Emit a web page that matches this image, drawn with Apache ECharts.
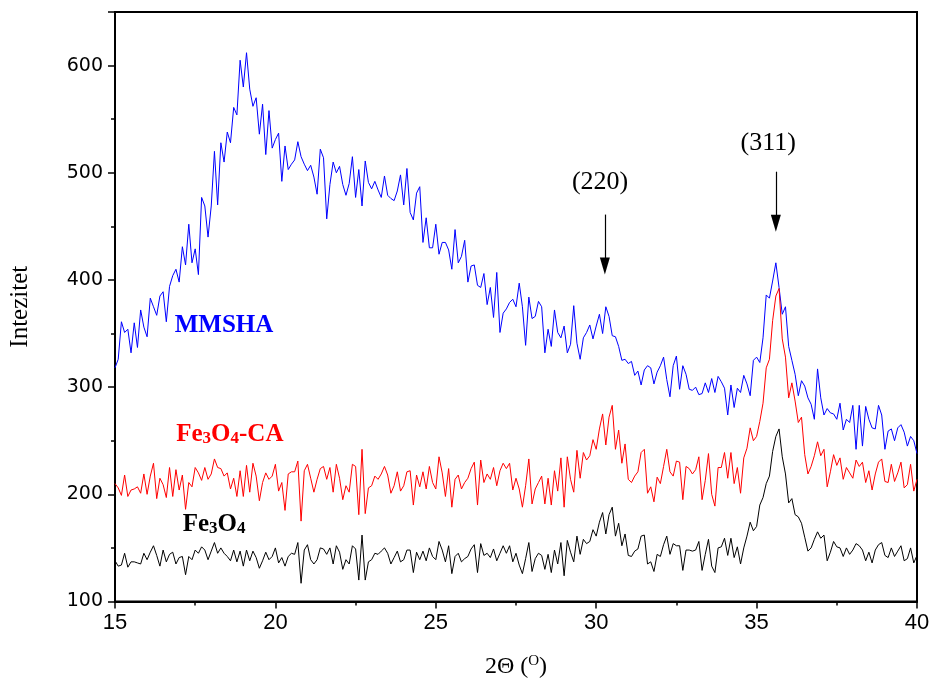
<!DOCTYPE html>
<html>
<head>
<meta charset="utf-8">
<script src="https://cdn.jsdelivr.net/npm/echarts/dist/echarts.min.js"></script>
<style>
  html, body { margin: 0; padding: 0; background: #fff; }
  #chart { width: 933px; height: 684px; }
</style>
</head>
<body>
<div id="chart"></div>
<script>
// 2-theta grid of the scans
const thetaStart = 15;
const thetaStep = 0.1;

// MMSHA (blue)
const mmsha = [
  318, 326, 361, 351, 354, 332, 360, 337, 372, 356,
  347, 383, 375, 367, 385, 389, 361, 394, 404, 410,
  398, 431, 414, 452, 416, 429, 405, 477, 469, 440,
  469, 520, 470, 528, 510, 538, 528, 561, 554, 605,
  580, 612, 578, 562, 570, 536, 564, 517, 558, 523,
  531, 537, 492, 525, 503, 508, 512, 529, 515, 508,
  502, 507, 496, 480, 522, 514, 457, 489, 510, 500,
  506, 489, 479, 490, 515, 477, 503, 469, 511, 491,
  485, 492, 484, 477, 497, 479, 476, 474, 483, 498,
  470, 504, 463, 456, 481, 487, 435, 458, 430, 430,
  452, 424, 435, 435, 428, 410, 447, 416, 422, 437,
  398, 413, 414, 395, 393, 406, 377, 393, 365, 407,
  351, 369, 373, 379, 382, 375, 397, 375, 339, 384,
  364, 366, 380, 375, 332, 354, 338, 372, 351, 346,
  357, 332, 340, 376, 341, 326, 346, 351, 358, 345,
  357, 368, 350, 375, 366, 348, 347, 338, 325, 326,
  322, 324, 311, 315, 302, 316, 320, 318, 303, 314,
  320, 328, 307, 291, 320, 329, 298, 320, 312, 298,
  297, 300, 293, 294, 304, 295, 308, 295, 310, 305,
  299, 274, 302, 281, 299, 295, 311, 303, 292, 325,
  328, 323, 346, 386, 383, 399, 416, 393, 368, 375,
  338, 325, 312, 292, 306, 301, 290, 284, 270, 317,
  290, 274, 280, 276, 275, 270, 285, 260, 270, 267,
  283, 242, 283, 245, 282, 270, 262, 261, 283, 274,
  242, 259, 261, 250, 262, 265, 258, 245, 254, 250,
  238
];

// Fe3O4-CA (red)
const fe3o4CA = [
  210, 206, 199, 218, 198, 204, 205, 207, 201, 219,
  200, 217, 229, 196, 215, 209, 197, 225, 198, 223,
  204, 218, 186, 211, 207, 225, 220, 213, 225, 214,
  219, 233, 225, 224, 217, 220, 205, 215, 198, 222,
  198, 227, 202, 229, 217, 194, 211, 220, 214, 217,
  228, 203, 211, 185, 219, 221, 221, 231, 175, 222,
  228, 215, 202, 214, 224, 226, 214, 225, 202, 228,
  215, 195, 208, 202, 228, 226, 181, 242, 182, 206,
  208, 217, 214, 219, 226, 218, 201, 208, 221, 203,
  208, 221, 222, 190, 218, 207, 221, 205, 226, 211,
  205, 235, 220, 198, 224, 188, 214, 218, 205, 211,
  215, 224, 230, 190, 232, 211, 219, 214, 225, 208,
  222, 229, 224, 229, 204, 215, 205, 188, 208, 233,
  191, 205, 211, 217, 191, 215, 190, 222, 203, 234,
  188, 235, 214, 202, 241, 215, 239, 232, 236, 251,
  242, 261, 275, 246, 272, 283, 242, 260, 229, 247,
  214, 211, 217, 221, 239, 242, 201, 207, 193, 216,
  210, 226, 242, 221, 217, 231, 230, 195, 226, 224,
  219, 223, 235, 195, 213, 238, 200, 189, 225, 225,
  239, 215, 239, 210, 225, 201, 234, 243, 262, 250,
  254, 268, 285, 318, 326, 362, 385, 392, 345, 328,
  290, 304, 287, 267, 272, 237, 219, 226, 236, 249,
  236, 242, 207, 221, 237, 227, 234, 214, 225, 220,
  215, 232, 226, 230, 211, 222, 204, 219, 230, 233,
  212, 211, 228, 212, 220, 230, 206, 209, 228, 203,
  214
];

// Fe3O4 (black)
const fe3o4 = [
  138, 133, 134, 145, 132, 137, 137, 136, 135, 145,
  139, 146, 152, 143, 133, 148, 137, 144, 146, 135,
  141, 142, 125, 142, 139, 148, 145, 151, 148, 139,
  147, 155, 145, 150, 145, 142, 138, 148, 137, 147,
  133, 148, 138, 147, 141, 131, 138, 146, 139, 142,
  150, 136, 141, 133, 142, 145, 144, 155, 117, 148,
  153, 139, 135, 139, 150, 149, 144, 150, 135, 152,
  146, 130, 139, 135, 152, 149, 120, 162, 120, 137,
  139, 145, 144, 147, 150, 145, 135, 141, 147, 137,
  139, 148, 148, 127, 146, 139, 147, 138, 150, 142,
  139, 156, 148, 137, 152, 126, 142, 145, 137, 140,
  142, 149, 153, 127, 154, 143, 145, 141, 149, 138,
  145, 152, 145, 152, 137, 145, 134, 126, 140, 155,
  128, 140, 145, 143, 130, 144, 127, 148, 135, 155,
  124, 157, 146, 137, 161, 144, 158, 154, 156, 167,
  161, 174, 183, 163, 181, 188, 161, 173, 152, 163,
  143, 142, 147, 149, 161, 162, 135, 137, 128, 144,
  142, 153, 161, 144, 154, 152, 152, 129, 148, 148,
  147, 148, 156, 129, 144, 158, 133, 127, 150, 151,
  159, 143, 159, 141, 151, 135, 150, 161, 174, 166,
  170, 190, 197, 210, 217, 240, 254, 261, 235, 219,
  192, 196, 181, 179, 173, 160, 147, 150, 158, 165,
  159, 162, 138, 146, 156, 151, 150, 142, 150, 144,
  148, 154, 152, 148, 138, 146, 136, 148, 153, 155,
  143, 141, 150, 142, 147, 152, 138, 140, 150, 136,
  143
];

// peak annotations: label, label position, arrow top, arrow head
const peakNames = ["(220)", "(311)"];
const peakLabelAt = [[30.12, 491], [35.36, 528]];
const peakArrowFrom = [[30.27, 461], [35.6, 501]];
const peakArrowTo = [[30.27, 413], [35.6, 453]];

// curve names written next to each curve
const curveNames = ["MMSHA", "Fe{sub|3}O{sub|4}-CA", "Fe{sub|3}O{sub|4}"];
const curveLabelAt = [[18.4, 357.5], [18.58, 256], [18.09, 172]];

const serif = "'Liberation Serif', 'Times New Roman', serif";

function toPairs(values) {
  return values.map((v, i) => [+(thetaStart + i * thetaStep).toFixed(2), v]);
}

function curveLabel(i, color) {
  return {
    silent: true,
    symbol: "rect",
    symbolSize: 0,
    label: {
      show: true,
      position: "inside",
      formatter: "{b}",
      color: color,
      fontFamily: serif,
      fontWeight: "bold",
      fontSize: 25,
      rich: {
        sub: {
          fontFamily: serif,
          fontWeight: "bold",
          fontSize: 17,
          color: color,
          verticalAlign: "bottom",
        },
      },
    },
    data: [{ name: curveNames[i], coord: curveLabelAt[i] }],
  };
}

const chart = echarts.init(document.getElementById("chart"));

const option = {
  animation: false,
  backgroundColor: "#fff",
  grid: {
    left: 115,
    right: 16,
    top: 12,
    bottom: 82,
    show: true,
    borderColor: "#000",
    borderWidth: 2,
  },
  xAxis: {
    type: "value",
    min: 15,
    max: 40,
    interval: 5,
    name: "2\u0398 ({sup|O})",
    nameLocation: "middle",
    nameGap: 52,
    nameTextStyle: {
      fontFamily: serif,
      fontSize: 24,
      color: "#000",
      rich: {
        sup: { fontFamily: serif, fontSize: 15, color: "#000", padding: [0, 0, 12, 0] },
      },
    },
    axisLine: { lineStyle: { color: "#000", width: 2 } },
    axisTick: { inside: false, length: 7, lineStyle: { color: "#000", width: 1.5 } },
    minorTick: { show: true, splitNumber: 2, length: 4, lineStyle: { color: "#000", width: 1.5 } },
    axisLabel: {
      color: "#000",
      fontSize: 22,
      fontFamily: "'Liberation Sans Narrow', 'Liberation Sans', Arial, sans-serif",
      margin: 10,
    },
    splitLine: { show: false },
  },
  yAxis: {
    type: "value",
    min: 100,
    max: 650,
    interval: 100,
    name: "Intezitet",
    nameLocation: "middle",
    nameGap: 82,
    nameTextStyle: { fontFamily: serif, fontSize: 25, color: "#000" },
    axisLine: { show: true, lineStyle: { color: "#000", width: 2 } },
    axisTick: { show: true, inside: false, length: 7, lineStyle: { color: "#000", width: 1.5 } },
    minorTick: { show: true, splitNumber: 2, length: 4, lineStyle: { color: "#000", width: 1.5 } },
    axisLabel: {
      color: "#000",
      fontSize: 19,
      fontFamily: "'DejaVu Sans', sans-serif",
      margin: 12,
      showMaxLabel: false,
    },
    splitLine: { show: false },
  },
  series: [
    {
      name: "MMSHA",
      type: "line",
      data: toPairs(mmsha),
      showSymbol: false,
      symbol: "none",
      lineStyle: { color: "#0000ff", width: 1 },
      itemStyle: { color: "#0000ff" },
      markPoint: curveLabel(0, "#0000ff"),
    },
    {
      name: "Fe3O4-CA",
      type: "line",
      data: toPairs(fe3o4CA),
      showSymbol: false,
      symbol: "none",
      lineStyle: { color: "#ff0000", width: 1 },
      itemStyle: { color: "#ff0000" },
      markPoint: curveLabel(1, "#ff0000"),
    },
    {
      name: "Fe3O4",
      type: "line",
      data: toPairs(fe3o4),
      showSymbol: false,
      symbol: "none",
      lineStyle: { color: "#000", width: 1 },
      itemStyle: { color: "#000" },
      markPoint: curveLabel(2, "#000"),
    },
    {
      // peak arrows and Miller indices
      name: "peaks",
      type: "line",
      data: [],
      markLine: {
        silent: true,
        symbol: ["none", "triangle"],
        symbolSize: [10, 17],
        label: { show: false },
        lineStyle: { color: "#000", width: 1.2, type: "solid" },
        data: peakArrowFrom.map((p, i) => [{ coord: p }, { coord: peakArrowTo[i] }]),
      },
      markPoint: {
        silent: true,
        symbol: "rect",
        symbolSize: 0,
        label: {
          show: true,
          position: "inside",
          formatter: "{b}",
          color: "#000",
          fontFamily: serif,
          fontSize: 26,
        },
        data: peakNames.map((n, i) => ({ name: n, coord: peakLabelAt[i] })),
      },
    },
  ],
};

chart.setOption(option);
</script>
</body>
</html>
